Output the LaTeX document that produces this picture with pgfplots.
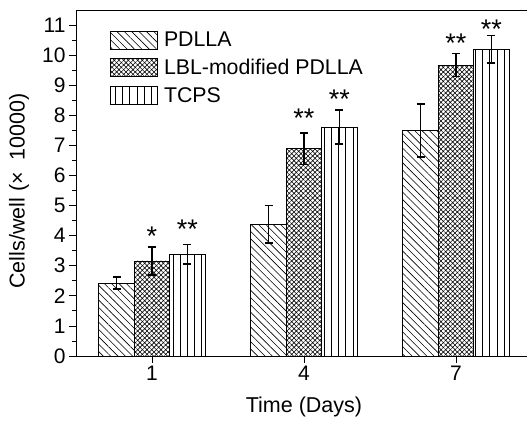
\documentclass[border=0pt]{standalone}
\usepackage{pgfplots}
\pgfplotsset{compat=1.18}
\usepackage{pgfplotstable}
\usepackage{fontspec}
\setmainfont{Liberation Sans}
\usetikzlibrary{patterns.meta}

\pgfplotstableread{
x y e
0.3 2.42 0.20
3.3 4.38 0.63
6.3 7.49 0.88
}\pdlla
\pgfplotstableread{
x y e
1 3.16 0.46
4 6.89 0.52
7 9.67 0.38
}\lbl
\pgfplotstableread{
x y e
1.7 3.38 0.33
4.7 7.61 0.57
7.7 10.20 0.46
}\tcps
\pgfplotstableread{
x y lab
1 3.67 *
1.7 3.91 **
4 7.60 **
4.7 8.23 **
7 10.09 **
7.7 10.56 **
}\stars

\pgfplotsset{
  mybar/.style={ybar, bar width=0.7, bar shift=0pt, draw=black, line width=0.7pt,
    error bars/y dir=both, error bars/y explicit,
    error bars/error bar style={line width=1.5pt, black, solid},
    error bars/error mark options={rotate=90, mark size=4pt, line width=1.5pt, black}},
  mylegend/.style={legend image code/.code={\draw[##1, line width=0.8pt] (0pt,-9pt) rectangle (47pt,9pt);}},
}

\begin{document}
\begin{tikzpicture}
\begin{axis}[
  at={(0,0)}, anchor=south west,
  scale only axis, width=456pt, height=346pt,
  xmin=-0.5, xmax=8.5, ymin=0, ymax=11.5,
  xtick={1,4,7}, ytick={0,1,...,11}, minor y tick num=1,
  tick align=outside, xtick pos=bottom, ytick pos=left,
  major tick length=7pt, minor tick length=4pt,
  tick style={black, line width=0.8pt},
  axis line style={line width=0.9pt},
  ticklabel style={font=\fontsize{21}{25}\selectfont},
  /pgf/number format/assume math mode=true,
  xlabel={Time (Days)}, ylabel={Cells/well (×\ \ 10000)},
  label style={font=\fontsize{21.5}{26}\selectfont},
  xlabel style={at={(axis description cs:0.5,-0.147)}, anchor=center},
  ylabel style={at={(axis description cs:-0.125,0.477)}, anchor=center},
  legend style={at={(axis description cs:0.0746,0.945)}, anchor=north west, draw=none, fill=none,
    font=\fontsize{21.3}{24}\selectfont, row sep=5pt, inner sep=0pt,
    nodes={inner sep=3pt}, column sep=3pt},
  legend cell align=left,
]
\addplot[mybar, mylegend, pattern={Lines[angle=-45, distance=5.2pt, line width=0.6pt]}]
  table[x=x, y=y, y error=e] {\pdlla};
\addlegendentry{PDLLA}
\addplot[mybar, mylegend, pattern={Lines[angle=45, distance=3.3pt, line width=0.6pt]},
  postaction={pattern={Lines[angle=-45, distance=3.3pt, line width=0.6pt]}}]
  table[x=x, y=y, y error=e] {\lbl};
\addlegendentry{LBL-modified PDLLA}
\addplot[mybar, mylegend, pattern={Lines[angle=90, distance=7.2pt, line width=0.6pt]}]
  table[x=x, y=y, y error=e] {\tcps};
\addlegendentry{TCPS}
\addplot[forget plot, only marks, mark=none, nodes near coords, point meta=explicit symbolic,
  nodes near coords style={anchor=base, inner sep=0pt, font=\fontsize{27}{30}\selectfont}]
  table[x=x, y=y, meta=lab] {\stars};
\end{axis}
\pgfresetboundingbox
\path[use as bounding box] (-76pt,-66pt) rectangle (451pt,356pt);
\end{tikzpicture}
\end{document}
